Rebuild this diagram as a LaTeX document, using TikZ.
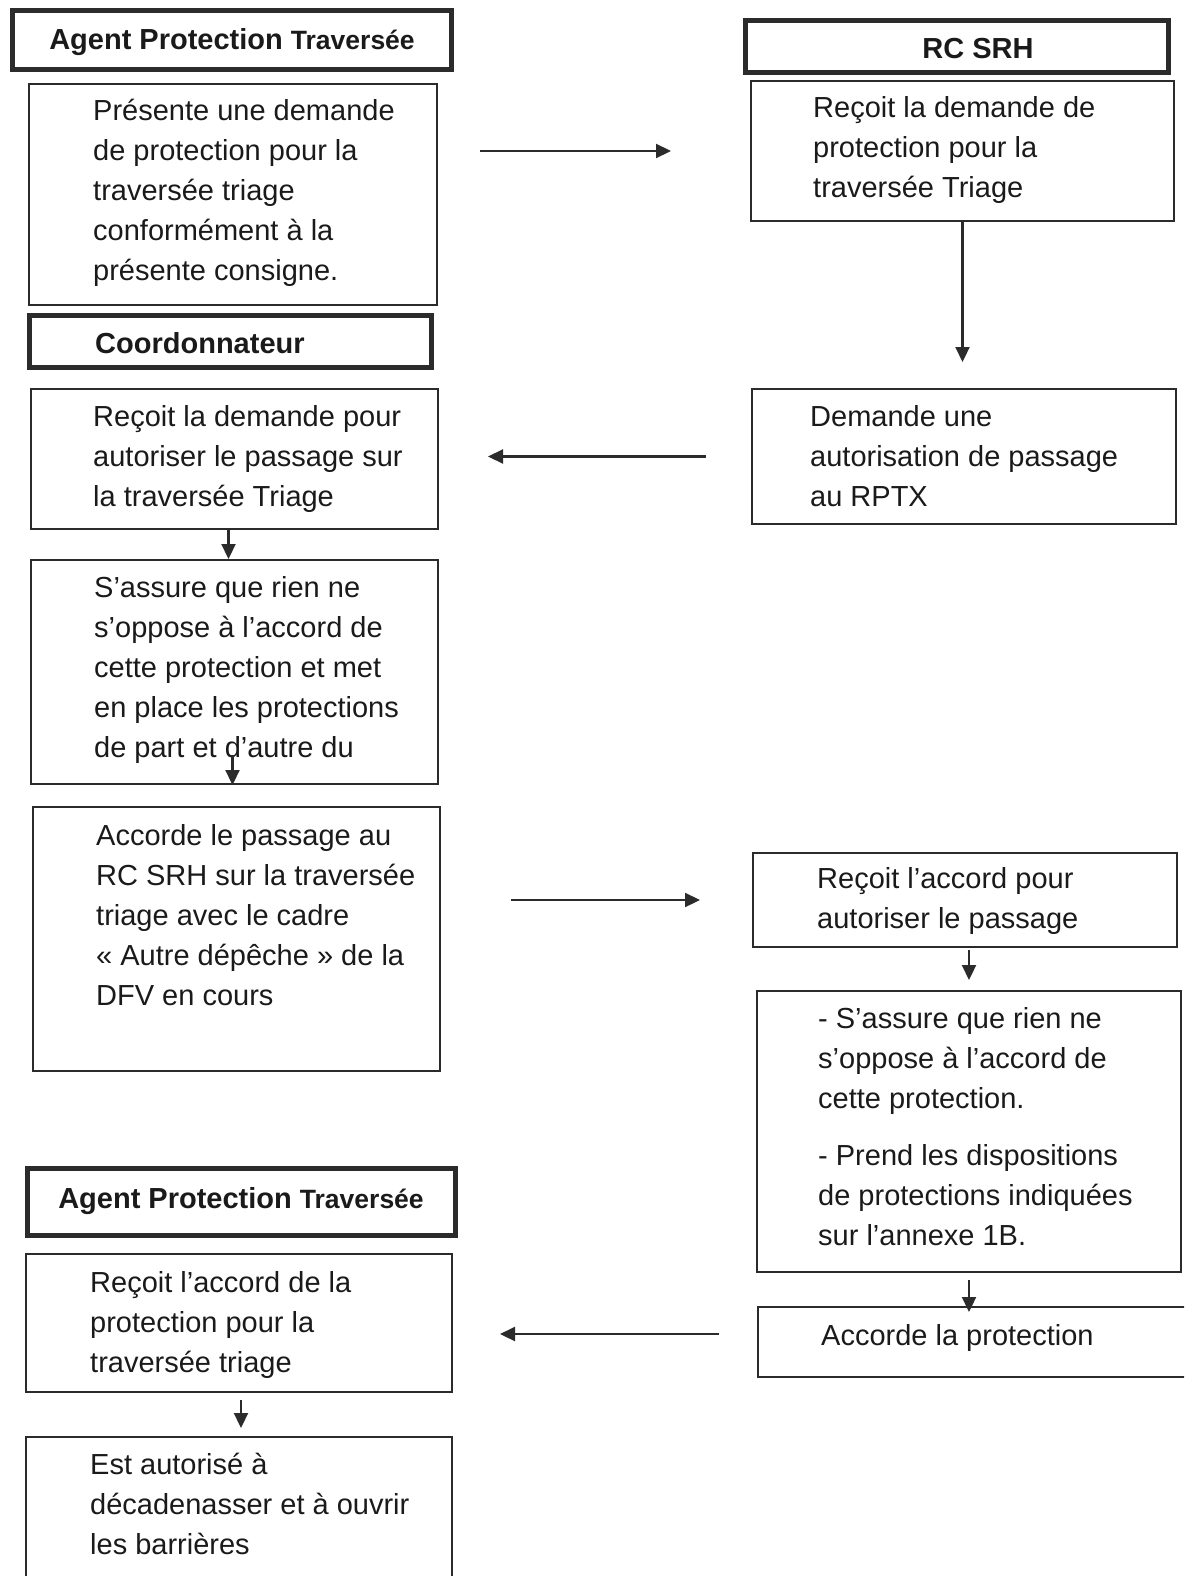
\documentclass[tikz,border=0pt]{standalone}
\usepackage{fontspec}
\setmainfont{Liberation Sans}
\usetikzlibrary{arrows.meta, calc}
\definecolor{trait}{HTML}{2B2B2B}
\definecolor{encre}{HTML}{1A1A1A}
\newcommand{\txtsize}{\fontsize{29}{40}\selectfont}
\newcommand{\titsize}{\fontsize{29}{34}\selectfont}
\tikzset{
  % cadre d'acteur (bordure épaisse)
  acteur/.style={draw=trait, line width=5pt, inner sep=0pt},
  % cadre d'une étape
  etape/.style={draw=trait, line width=2pt, inner sep=0pt},
  % texte d'une étape
  txt/.style={anchor=north west, align=left, inner sep=0pt, font=\txtsize, text=encre},
  % titre d'acteur
  titre/.style={anchor=base, inner sep=0pt, font=\titsize\bfseries, text=encre},
  % flèche entre étapes
  fleche/.style={-{Triangle[length=15pt, width=14pt]}, line width=2.2pt, draw=trait},
}

\begin{document}
\begin{tikzpicture}[x=1pt, y=-1pt]
  \clip (0,0) rectangle (1184,1576);
  % colonne gauche : agent et coordonnateur
  \node[acteur, minimum width=439pt, minimum height=59pt] (h1) at (232,40) {};
  \node[titre] (h1t) at (232,50) {Agent Protection {\fontsize{26.5}{30}\selectfont Traversée}};
  \node[etape, minimum width=408pt, minimum height=221pt] (b1) at (233,194.5) {};
  \node[txt] (b1t) at (93,92) {\strut Présente une demande\\de protection pour la\\traversée triage\\conformément à la\\présente consigne.};
  \node[acteur, minimum width=402pt, minimum height=52pt] (hc) at (230.5,341.5) {};
  \node[titre, anchor=base west] (hct) at (95,353) {Coordonnateur};
  \node[etape, minimum width=407pt, minimum height=140pt] (c1) at (234.5,459) {};
  \node[txt] (c1t) at (93,398) {\strut Reçoit la demande pour\\autoriser le passage sur\\la traversée Triage};
  \node[etape, minimum width=407pt, minimum height=224pt] (c2) at (234.5,672) {};
  \node[txt] (c2t) at (94,569) {\strut S’assure que rien ne\\s’oppose à l’accord de\\cette protection et met\\en place les protections\\de part et d’autre du};
  \node[etape, minimum width=407pt, minimum height=264pt] (c3) at (236.5,939) {};
  \node[txt] (c3t) at (96,817) {\strut Accorde le passage au\\RC SRH sur la traversée\\triage avec le cadre\\« Autre dépêche » de la\\DFV en cours};
  \node[acteur, minimum width=428pt, minimum height=67pt] (hb) at (241.5,1202) {};
  \node[titre] (hbt) at (241,1208) {Agent Protection {\fontsize{26.5}{30}\selectfont Traversée}};
  \node[etape, minimum width=426pt, minimum height=138pt] (d1) at (239,1323) {};
  \node[txt] (d1t) at (90,1264) {\strut Reçoit l’accord de la\\protection pour la\\traversée triage};
  \node[etape, minimum width=426pt, minimum height=182pt] (d2) at (239,1528) {};
  \node[txt] (d2t) at (90,1446) {\strut Est autorisé à\\décadenasser et à ouvrir\\les barrières};
  % colonne droite : RC SRH
  \node[acteur, minimum width=423pt, minimum height=52pt] (hr) at (957,46.5) {};
  \node[titre] (hrt) at (978,59) {RC SRH};
  \node[etape, minimum width=423pt, minimum height=140pt] (r1) at (962.5,151) {};
  \node[txt] (r1t) at (813,89) {\strut Reçoit la demande de\\protection pour la\\traversée Triage};
  \node[etape, minimum width=424pt, minimum height=135pt] (r2) at (964,456.5) {};
  \node[txt] (r2t) at (810,398) {\strut Demande une\\autorisation de passage\\au RPTX};
  \node[etape, minimum width=424pt, minimum height=94pt] (r3) at (965,900) {};
  \node[txt] (r3t) at (817,860) {\strut Reçoit l’accord pour\\autoriser le passage};
  \node[etape, minimum width=424pt, minimum height=281pt] (r4) at (969,1131.5) {};
  \node[txt] (r4t) at (818,1000) {\strut - S’assure que rien ne\\s’oppose à l’accord de\\cette protection.\\[17pt]- Prend les dispositions\\de protections indiquées\\sur l’annexe 1B.};
  \node[etape, minimum width=451pt, minimum height=70pt] (r5) at (983.5,1342) {};
  \node[txt] (r5t) at (821,1317) {\strut Accorde la protection};
  % flèches
  \draw[fleche] ($(b1.east |- r1.west)+(42,0)$) -- ($(r1.west)+(-79,0)$);
  \draw[fleche] (r1.south) -- ($(r1.south |- r2.north)+(0,-26)$);
  \draw[fleche] ($(r2.west)+(-45,0)$) -- ($(c1.east |- r2.west)+(49,0)$);
  \draw[fleche] ($(c1.south)+(-6,0)$) -- ($(c2.north)+(-6,0)$);
  \draw[fleche] ($(c2.south)+(-2,-30)$) -- ($(c2.south)+(-2,0)$);
  \draw[fleche] ($(c3.east |- r3.west)+(70,0)$) -- ($(r3.west)+(-52,0)$);
  \draw[fleche] ($(r4.north |- r3.south)+(0,2)$) -- ($(r4.north)+(0,-10)$);
  \draw[fleche] ($(r4.south)+(0,7)$) -- ($(r4.south |- r5.north)+(0,6)$);
  \draw[fleche] ($(r5.west)+(-38,-8)$) -- ($(d1.east |- r5.west)+(47,-8)$);
  \draw[fleche] ($(d1.south)+(2,7)$) -- ($(d2.north)+(2,-8)$);
\end{tikzpicture}
\end{document}
